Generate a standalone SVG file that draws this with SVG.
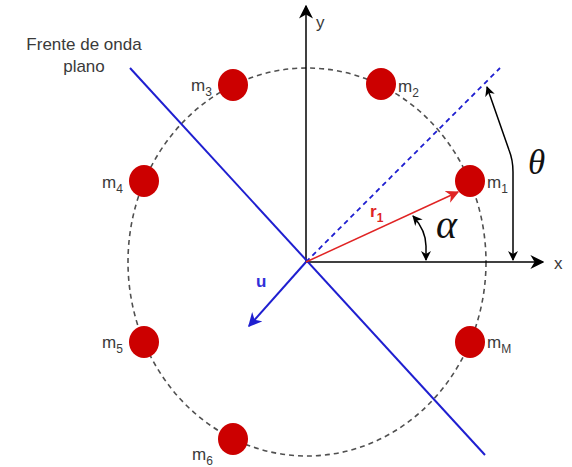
<svg xmlns="http://www.w3.org/2000/svg" width="572" height="467" viewBox="0 0 572 467">
  <style>
    .lbl { font-family: "Liberation Sans", Arial, sans-serif; font-size: 17px; fill: #3a3a3a; }
    .sub { font-size: 12px; }
    .mass { fill: #CC0000; }
    .axis { stroke: #000000; stroke-width: 1.5; fill: none; }
    .greek { font-family: "Liberation Serif", "DejaVu Serif", serif; font-style: italic; fill: #111111; }
  </style>
  <defs>
    <marker id="arrBlack" viewBox="0 0 10 10" refX="9" refY="5" markerWidth="10" markerHeight="10" markerUnits="userSpaceOnUse" orient="auto-start-reverse">
      <path d="M0,0 L10,5 L0,10 L3,5 Z" fill="#000000"/>
    </marker>
    <marker id="arrAxis" viewBox="0 0 10 10" refX="9" refY="5" markerWidth="14" markerHeight="14" markerUnits="userSpaceOnUse" orient="auto">
      <path d="M0,0 L10,5 L0,10 L3,5 Z" fill="#000000"/>
    </marker>
    <marker id="arrBlue" viewBox="0 0 10 10" refX="9" refY="5" markerWidth="14" markerHeight="14" markerUnits="userSpaceOnUse" orient="auto">
      <path d="M0,0 L10,5 L0,10 L3,5 Z" fill="#1f1fd0"/>
    </marker>
    <marker id="arrRed" viewBox="0 0 10 10" refX="9" refY="5" markerWidth="13" markerHeight="13" markerUnits="userSpaceOnUse" orient="auto">
      <path d="M0,0 L10,5 L0,10 L3,5 Z" fill="#e02424"/>
    </marker>
  </defs>

  <rect width="572" height="467" fill="#ffffff"/>

  <!-- dashed circle of the array -->
  <g id="array-circle">
    <ellipse cx="307" cy="262" rx="179" ry="194" fill="none" stroke="#505050" stroke-width="1.6" stroke-dasharray="5 4"/>
  </g>

  <g id="connectors">
    <!-- axes -->
    <line class="axis" x1="306" y1="262" x2="306" y2="6" marker-end="url(#arrAxis)"/>
    <line class="axis" x1="306" y1="262" x2="543" y2="262" marker-end="url(#arrAxis)"/>
    <!-- wavefront -->
    <line x1="130" y1="68" x2="485" y2="455" stroke="#1f1fd0" stroke-width="2"/>
    <!-- propagation direction dashed -->
    <line x1="306" y1="262" x2="500" y2="68" stroke="#1f1fd0" stroke-width="1.8" stroke-dasharray="5 4"/>
    <!-- u vector -->
    <line x1="306" y1="262" x2="249" y2="326" stroke="#1f1fd0" stroke-width="2" marker-end="url(#arrBlue)"/>
    <!-- r1 vector -->
    <line x1="306" y1="262" x2="458" y2="192" stroke="#e02424" stroke-width="1.5" marker-end="url(#arrRed)"/>
    <!-- alpha arc -->
    <path d="M 413 216 C 421 225 426 234 426 246 L 426 260" fill="none" stroke="#000000" stroke-width="1.5" marker-start="url(#arrBlack)" marker-end="url(#arrBlack)"/>
    <!-- theta arc -->
    <path d="M 487 87 L 509 150 Q 513 160 513 172 L 513 260" fill="none" stroke="#000000" stroke-width="1.5" marker-start="url(#arrBlack)" marker-end="url(#arrBlack)"/>
  </g>

  <g id="axis-labels">
    <text class="lbl" x="316" y="28">y</text>
    <text class="lbl" x="554" y="269">x</text>
  </g>

  <g id="wavefront-label">
    <text class="lbl" x="84" y="50" text-anchor="middle" font-size="17.5">Frente de onda</text>
    <text class="lbl" x="84" y="72" text-anchor="middle" font-size="17.5">plano</text>
  </g>

  <g id="u-label">
    <text x="256" y="287" font-family="Liberation Sans, Arial, sans-serif" font-size="17" font-weight="bold" fill="#3030d8">u</text>
  </g>

  <g id="r1-label">
    <text x="370" y="217" font-family="Liberation Sans, Arial, sans-serif" font-size="17" font-weight="bold" fill="#e02424">r<tspan font-size="12" dy="5">1</tspan></text>
  </g>

  <g id="alpha-label">
    <text class="greek" x="436" y="238" font-size="40">α</text>
  </g>
  <g id="theta-label">
    <text class="greek" x="528" y="174" font-size="35">θ</text>
  </g>

  <g id="m1">
    <ellipse class="mass" cx="470" cy="181" rx="15" ry="16"/>
    <text class="lbl" x="487" y="188">m<tspan class="sub" dy="5">1</tspan></text>
  </g>
  <g id="m2">
    <ellipse class="mass" cx="381" cy="84" rx="15" ry="16"/>
    <text class="lbl" x="398" y="92">m<tspan class="sub" dy="5">2</tspan></text>
  </g>
  <g id="m3">
    <ellipse class="mass" cx="233" cy="85" rx="15" ry="16"/>
    <text class="lbl" x="191" y="91">m<tspan class="sub" dy="5">3</tspan></text>
  </g>
  <g id="m4">
    <ellipse class="mass" cx="144" cy="181" rx="15" ry="16"/>
    <text class="lbl" x="102" y="188">m<tspan class="sub" dy="5">4</tspan></text>
  </g>
  <g id="m5">
    <ellipse class="mass" cx="144" cy="342" rx="15" ry="16"/>
    <text class="lbl" x="102" y="348">m<tspan class="sub" dy="5">5</tspan></text>
  </g>
  <g id="m6">
    <ellipse class="mass" cx="233" cy="439" rx="15" ry="16"/>
    <text class="lbl" x="192" y="460">m<tspan class="sub" dy="5">6</tspan></text>
  </g>
  <g id="mM">
    <ellipse class="mass" cx="470" cy="342" rx="15" ry="16"/>
    <text class="lbl" x="487" y="348">m<tspan class="sub" dy="5">M</tspan></text>
  </g>
</svg>
